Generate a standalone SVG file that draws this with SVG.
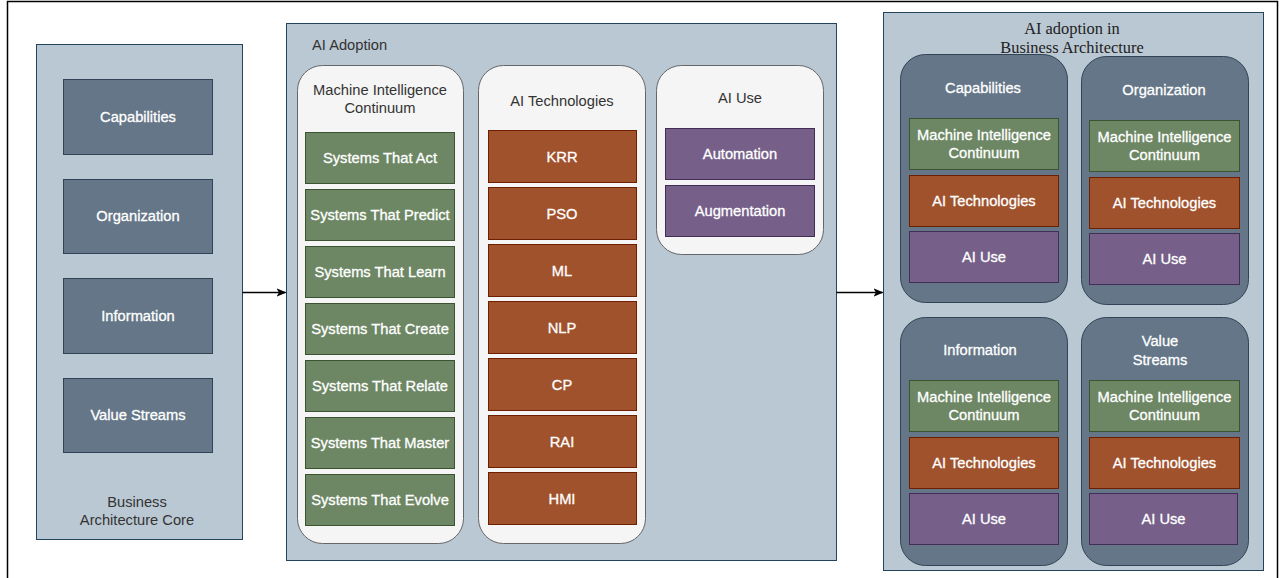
<svg xmlns="http://www.w3.org/2000/svg" width="1281" height="578" viewBox="0 0 1281 578">
<defs>
<style>
.bg{fill:#ffffff}
.frame{fill:none;stroke:#000;stroke-width:1.5}
.cont{fill:#bac8d3;stroke:#23445d;stroke-width:1}
.slate{fill:#647687;stroke:#314354;stroke-width:1}
.lane{fill:#f5f5f5;stroke:#666666;stroke-width:1}
.green{fill:#6d8764;stroke:#3a5431;stroke-width:1}
.red{fill:#a0522d;stroke:#6d1f00;stroke-width:1}
.purple{fill:#76608a;stroke:#432d57;stroke-width:1}
text{font-family:"Liberation Sans",Arial,Helvetica,sans-serif;font-size:14.7px;text-anchor:middle}
.w{fill:#ffffff;stroke:#ffffff;stroke-width:0.3}
.d{fill:#333333}
.serif{font-family:"Liberation Serif","Times New Roman",serif;font-size:16.4px;fill:#222222}
.conn{fill:none;stroke:#000;stroke-width:1.3}
</style>
<marker id="arr" markerWidth="10" markerHeight="10" refX="9" refY="5" orient="auto" markerUnits="userSpaceOnUse">
<path d="M0,0.8 L10,5 L0,9.2 L2.5,5 Z" fill="#000"/>
</marker>
</defs>
<rect class="bg" x="0" y="0" width="1281" height="578"/>
<path class="frame" d="M7.5,580 V1.5 H1277.5 V580"/>

<g id="business-architecture-core">
<rect class="cont" x="36.5" y="44.5" width="206" height="495"/>
<text class="d" x="137" y="507">Business</text>
<text class="d" x="137" y="525">Architecture Core</text>
<g id="core-capabilities"><rect class="slate" x="63.5" y="79.5" width="149" height="75"/><text class="w" x="138" y="122">Capabilities</text></g>
<g id="core-organization"><rect class="slate" x="63.5" y="179.5" width="149" height="74"/><text class="w" x="138" y="221">Organization</text></g>
<g id="core-information"><rect class="slate" x="63.5" y="278.5" width="149" height="75"/><text class="w" x="138" y="320.5">Information</text></g>
<g id="core-value-streams"><rect class="slate" x="63.5" y="378.5" width="149" height="74"/><text class="w" x="138" y="420">Value Streams</text></g>
</g>

<g id="ai-adoption">
<rect class="cont" x="286.5" y="23.5" width="550" height="537"/>
<text class="d" x="312" y="50" style="text-anchor:start">AI Adoption</text>
<g id="mic">
<rect class="lane" x="297.5" y="65.5" width="166" height="478" rx="25" ry="25"/>
<text class="d" x="380" y="95">Machine Intelligence</text>
<text class="d" x="380" y="113">Continuum</text>
<g id="mic-act"><rect class="green" x="305.5" y="132.5" width="149" height="51"/><text class="w" x="380" y="163">Systems That Act</text></g>
<g id="mic-predict"><rect class="green" x="305.5" y="189.5" width="149" height="51"/><text class="w" x="380" y="220">Systems That Predict</text></g>
<g id="mic-learn"><rect class="green" x="305.5" y="246.5" width="149" height="51"/><text class="w" x="380" y="277">Systems That Learn</text></g>
<g id="mic-create"><rect class="green" x="305.5" y="303.5" width="149" height="51"/><text class="w" x="380" y="334">Systems That Create</text></g>
<g id="mic-relate"><rect class="green" x="305.5" y="360.5" width="149" height="51"/><text class="w" x="380" y="391">Systems That Relate</text></g>
<g id="mic-master"><rect class="green" x="305.5" y="417.5" width="149" height="51"/><text class="w" x="380" y="448">Systems That Master</text></g>
<g id="mic-evolve"><rect class="green" x="305.5" y="474.5" width="149" height="51"/><text class="w" x="380" y="505">Systems That Evolve</text></g>
</g>
<g id="ai-tech">
<rect class="lane" x="478.5" y="65.5" width="167" height="478" rx="25" ry="25"/>
<text class="d" x="562" y="106">AI Technologies</text>
<g id="tech-krr"><rect class="red" x="488.5" y="130.5" width="148" height="52"/><text class="w" x="562" y="161.5">KRR</text></g>
<g id="tech-pso"><rect class="red" x="488.5" y="187.5" width="148" height="52"/><text class="w" x="562" y="218.5">PSO</text></g>
<g id="tech-ml"><rect class="red" x="488.5" y="244.5" width="148" height="52"/><text class="w" x="562" y="275.5">ML</text></g>
<g id="tech-nlp"><rect class="red" x="488.5" y="301.5" width="148" height="52"/><text class="w" x="562" y="332.5">NLP</text></g>
<g id="tech-cp"><rect class="red" x="488.5" y="358.5" width="148" height="52"/><text class="w" x="562" y="389.5">CP</text></g>
<g id="tech-rai"><rect class="red" x="488.5" y="415.5" width="148" height="52"/><text class="w" x="562" y="446.5">RAI</text></g>
<g id="tech-hmi"><rect class="red" x="488.5" y="472.5" width="148" height="52"/><text class="w" x="562" y="503.5">HMI</text></g>
</g>
<g id="ai-use">
<rect class="lane" x="656.5" y="65.5" width="167" height="189" rx="25" ry="25"/>
<text class="d" x="740" y="103">AI Use</text>
<g id="use-automation"><rect class="purple" x="665.5" y="128.5" width="149" height="51"/><text class="w" x="740" y="158.5">Automation</text></g>
<g id="use-augmentation"><rect class="purple" x="665.5" y="185.5" width="149" height="51"/><text class="w" x="740" y="215.5">Augmentation</text></g>
</g>
</g>

<g id="ai-in-ba">
<rect class="cont" x="883.5" y="12.5" width="380" height="558"/>
<text class="serif" x="1072" y="33.5">AI adoption in</text>
<text class="serif" x="1072" y="53">Business Architecture</text>
<g id="ba-capabilities">
<rect class="slate" x="900.5" y="54.5" width="167" height="248" rx="25" ry="25"/>
<text class="w" x="983" y="93">Capabilities</text>
<rect class="green" x="909.5" y="118.5" width="149" height="51"/>
<text class="w" x="984" y="139.5">Machine Intelligence</text><text class="w" x="984" y="157.5">Continuum</text>
<rect class="red" x="909.5" y="175.5" width="149" height="51"/><text class="w" x="984" y="206">AI Technologies</text>
<rect class="purple" x="909.5" y="231.5" width="149" height="51"/><text class="w" x="984" y="262">AI Use</text>
</g>
<g id="ba-organization">
<rect class="slate" x="1081.5" y="56.5" width="167" height="248" rx="25" ry="25"/>
<text class="w" x="1164" y="95">Organization</text>
<rect class="green" x="1089.5" y="120.5" width="150" height="51"/>
<text class="w" x="1164.5" y="141.5">Machine Intelligence</text><text class="w" x="1164.5" y="159.5">Continuum</text>
<rect class="red" x="1089.5" y="177.5" width="150" height="51"/><text class="w" x="1164.5" y="208">AI Technologies</text>
<rect class="purple" x="1089.5" y="233.5" width="150" height="51"/><text class="w" x="1164.5" y="264">AI Use</text>
</g>
<g id="ba-information">
<rect class="slate" x="900.5" y="317.5" width="167" height="248" rx="25" ry="25"/>
<text class="w" x="980" y="355">Information</text>
<rect class="green" x="909.5" y="380.5" width="149" height="51"/>
<text class="w" x="984" y="401.5">Machine Intelligence</text><text class="w" x="984" y="419.5">Continuum</text>
<rect class="red" x="909.5" y="437.5" width="149" height="51"/><text class="w" x="984" y="468">AI Technologies</text>
<rect class="purple" x="909.5" y="493.5" width="149" height="51"/><text class="w" x="984" y="524">AI Use</text>
</g>
<g id="ba-value-streams">
<rect class="slate" x="1081.5" y="317.5" width="167" height="248" rx="25" ry="25"/>
<text class="w" x="1160" y="346">Value</text><text class="w" x="1160" y="364.5">Streams</text>
<rect class="green" x="1089.5" y="380.5" width="150" height="51"/>
<text class="w" x="1164.5" y="401.5">Machine Intelligence</text><text class="w" x="1164.5" y="419.5">Continuum</text>
<rect class="red" x="1089.5" y="437.5" width="150" height="51"/><text class="w" x="1164.5" y="468">AI Technologies</text>
<rect class="purple" x="1089.5" y="493.5" width="148" height="51"/><text class="w" x="1163.5" y="524">AI Use</text>
</g>
</g>

<g id="connectors">
<path class="conn" d="M242.5,292.5 H285.5" marker-end="url(#arr)"/>
<path class="conn" d="M836.5,292.5 H882.5" marker-end="url(#arr)"/>
</g>
</svg>
